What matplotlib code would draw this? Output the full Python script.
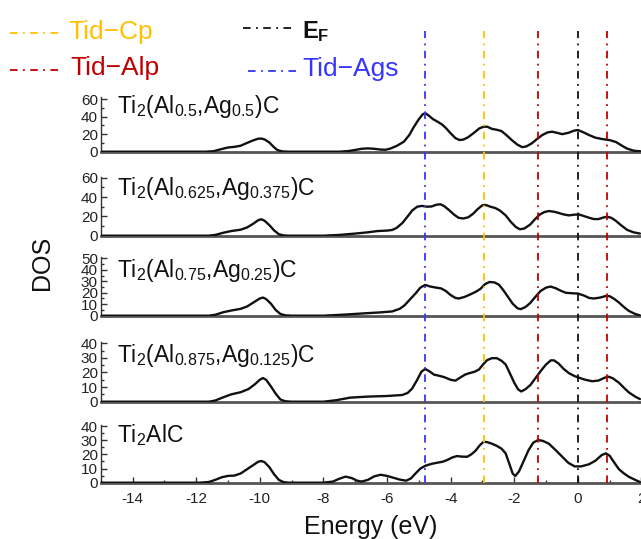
import matplotlib
matplotlib.use("Agg")
import matplotlib.pyplot as plt
from matplotlib.lines import Line2D
from matplotlib.ticker import MultipleLocator
from matplotlib.transforms import blended_transform_factory

plt.rcParams["font.family"] = ["Liberation Sans", "DejaVu Sans"]
plt.rcParams["mathtext.fontset"] = "custom"
plt.rcParams["mathtext.rm"] = "Liberation Sans"
plt.rcParams["mathtext.it"] = "Liberation Sans:italic"
plt.rcParams["mathtext.bf"] = "Liberation Sans:bold"
plt.rcParams["mathtext.sf"] = "Liberation Sans"
plt.rcParams["axes.unicode_minus"] = False

# ---------------- data ----------------
labels = [
    r"Ti$_2$(Al$_{0.5}$,Ag$_{0.5}$)C",
    r"Ti$_2$(Al$_{0.625}$,Ag$_{0.375}$)C",
    r"Ti$_2$(Al$_{0.75}$,Ag$_{0.25}$)C",
    r"Ti$_2$(Al$_{0.875}$,Ag$_{0.125}$)C",
    r"Ti$_2$AlC",
]

e_050 = [-15, -11.7, -11.45, -11.2, -11.0, -10.8, -10.6, -10.4, -10.2, -10.05, -9.95, -9.85,
         -9.7, -9.55, -9.45, -9.3, -9.1, -7.5, -7.2, -7.0, -6.8, -6.6, -6.4, -6.2, -6.05,
         -5.9, -5.7, -5.47, -5.3, -5.16, -5.0, -4.88, -4.8, -4.7, -4.55, -4.4, -4.27, -4.15,
         -4.0, -3.85, -3.72, -3.6, -3.45, -3.25, -3.1, -2.96, -2.85, -2.7, -2.55, -2.4,
         -2.25, -2.07, -1.9, -1.75, -1.62, -1.45, -1.3, -1.12, -0.95, -0.81, -0.65, -0.49,
         -0.3, -0.12, 0.0, 0.15, 0.35, 0.55, 0.75, 1.0, 1.2, 1.4, 1.55, 1.75, 2.0]
dos_050 = [0, 0, 0.6, 3, 4.8, 5.5, 6.8, 10, 13, 14.8, 15, 14,
           10.5, 5, 2, 0.4, 0, 0, 0.8, 2, 3.3, 3.8, 3.3, 2.4, 2.2,
           3.5, 6.5, 11.4, 19, 28, 37, 42.5, 44, 41.5, 37, 34, 31, 27,
           21, 15.5, 13.3, 13.8, 16.5, 22, 26.5, 28.5, 28.5, 26, 25, 23.5,
           19, 13, 8, 5.2, 6, 9.5, 14, 19, 22, 22.8, 21.5, 20,
           21.5, 24, 24.7, 22.5, 19, 16, 14.5, 13.2, 11, 6.5, 3.5, 1.2, 0.3]

e_0625 = [-15, -11.6, -11.4, -11.15, -10.9, -10.6, -10.4, -10.2, -10.05, -9.95, -9.85, -9.7,
          -9.55, -9.4, -9.25, -9.1, -8.0, -7.5, -7.0, -6.6, -6.3, -6.0, -5.84, -5.7, -5.52,
          -5.35, -5.21, -5.05, -4.9, -4.75, -4.6, -4.45, -4.32, -4.2, -4.05, -3.9, -3.75,
          -3.6, -3.45, -3.3, -3.15, -3.0, -2.9, -2.75, -2.59, -2.45, -2.27, -2.1, -1.95,
          -1.82, -1.68, -1.5, -1.35, -1.2, -1.05, -0.91, -0.75, -0.6, -0.45, -0.28, -0.1,
          0.05, 0.2, 0.35, 0.5, 0.65, 0.8, 0.92, 1.05, 1.19, 1.35, 1.55, 1.75, 1.95]
dos_0625 = [0, 0, 0.8, 3, 4.8, 6.2, 8.5, 12.5, 16, 17, 15.5, 11,
            5.5, 1.5, 0.3, 0, 0, 0.8, 2.2, 3.5, 4.8, 5.3, 5.9, 8, 13,
            20, 26, 30, 30.8, 30, 30.2, 32, 32.5, 30.5, 26.5, 22, 18.5,
            17.8, 19, 22.5, 27.5, 31.5, 31.8, 30, 28.5, 26, 21, 14, 9,
            6.6, 7.5, 11.5, 17, 21.8, 24.5, 25.5, 24.8, 23.5, 22, 21, 21.8,
            21.8, 20.2, 18.6, 17.2, 17.2, 18.8, 19.6, 18.5, 15.5, 11, 6, 3.5, 2.2]

e_075 = [-15, -11.6, -11.4, -11.15, -10.9, -10.6, -10.4, -10.2, -10.0, -9.9, -9.8, -9.65,
         -9.5, -9.35, -9.2, -9.0, -8.0, -7.3, -6.63, -6.26, -5.84, -5.6, -5.45, -5.3, -5.1,
         -4.95, -4.8, -4.65, -4.48, -4.3, -4.15, -4.0, -3.85, -3.74, -3.55, -3.37, -3.2,
         -3.06, -2.92, -2.78, -2.62, -2.48, -2.35, -2.2, -2.05, -1.9, -1.8, -1.65, -1.5,
         -1.35, -1.17, -1.0, -0.86, -0.7, -0.54, -0.38, -0.2, 0.0, 0.19, 0.35, 0.5, 0.7,
         0.88, 1.0, 1.15, 1.29, 1.45, 1.6, 1.8, 1.95]
dos_075 = [0, 0, 0.8, 3, 4.5, 6, 8, 11.5, 15, 15.8, 14.5, 10.5,
           5, 1.5, 0.3, 0, 0, 1, 2.2, 2.8, 3.7, 6, 9, 13.5, 19.5,
           24.5, 26.8, 25.5, 24.6, 23.8, 21.5, 18, 15.5, 15, 16.5, 18.7, 21,
           23.5, 27.5, 29.4, 29, 27, 22.5, 16.5, 10.5, 6.5, 5.7, 7.5, 11,
           16, 21.6, 24.5, 25.4, 24, 21.8, 20, 19.6, 19.3, 17.6, 15.5, 15, 15.8,
           17.2, 17, 14.5, 11.5, 7.5, 4.2, 1.5, 0.3]

e_0875 = [-15, -11.6, -11.4, -11.15, -10.9, -10.6, -10.35, -10.15, -10.0, -9.9, -9.8, -9.65,
          -9.5, -9.35, -9.2, -9.0, -8.0, -7.6, -7.15, -6.6, -6.0, -5.52, -5.35, -5.21, -5.05,
          -4.92, -4.8, -4.68, -4.52, -4.37, -4.2, -4.0, -3.85, -3.7, -3.55, -3.43, -3.25,
          -3.11, -2.98, -2.85, -2.7, -2.55, -2.4, -2.27, -2.15, -2.0, -1.88, -1.78, -1.65,
          -1.49, -1.32, -1.15, -1.0, -0.85, -0.75, -0.6, -0.45, -0.28, -0.1, 0.0, 0.2, 0.45,
          0.65, 0.85, 0.97, 1.1, 1.29, 1.45, 1.6, 1.8, 1.95]
dos_0875 = [0, 0, 0.8, 3, 5, 6.5, 8.7, 12, 15, 16.2, 15, 10.5,
            5.5, 1.5, 0.3, 0, 0, 1, 2.8, 3.5, 3.9, 4.6, 6, 9, 15,
            20.5, 22.4, 21, 18.5, 17.8, 16.8, 15, 14.4, 16.5, 18.5, 19.4, 20.5,
            22, 25.5, 28.5, 29.8, 29.8, 28, 25.5, 20, 13, 8.5, 7, 8.5,
            11.5, 16.5, 21.5, 25.5, 28.3, 28.3, 26, 22.5, 19.5, 17.5, 16.7, 15.2, 14,
            14.5, 16.5, 17.1, 16, 13, 9.5, 6.4, 3.5, 1.8]

e_ti2alc = [-15, -11.9, -11.6, -11.4, -11.2, -11.0, -10.8, -10.6, -10.4, -10.2, -10.05, -9.95,
            -9.85, -9.7, -9.55, -9.4, -9.25, -9.1, -8.0, -7.7, -7.5, -7.3, -7.1, -6.95, -6.8,
            -6.6, -6.4, -6.2, -6.0, -5.8, -5.6, -5.4, -5.25, -5.1, -4.95, -4.79, -4.6, -4.42,
            -4.25, -4.11, -3.95, -3.8, -3.65, -3.48, -3.35, -3.22, -3.08, -2.96, -2.85, -2.7,
            -2.55, -2.4, -2.27, -2.15, -2.05, -1.97, -1.85, -1.7, -1.55, -1.4, -1.25, -1.1,
            -0.91, -0.7, -0.49, -0.3, -0.1, 0.1, 0.35, 0.55, 0.75, 0.88, 1.0, 1.15, 1.29, 1.45,
            1.6, 1.8, 1.95]
dos_ti2alc = [0, 0, 0.5, 2, 3.8, 4.8, 5, 6.5, 9.5, 12.5, 14.8, 15.3,
              14.5, 11, 6, 2, 0.4, 0, 0, 0.8, 2.8, 4.3, 3.2, 1.5, 0.8,
              2, 4.5, 5.6, 4.8, 3.5, 2.2, 1.4, 3, 6.6, 10, 12, 13.3, 14.1,
              14.8, 16, 17.8, 18.8, 18.4, 18.3, 20, 22.5, 26.5, 28.9, 28.6, 27.5,
              26, 24, 20.7, 13, 6.5, 4.7, 8, 15.5, 23, 28.3, 30.1, 29.5,
              27.5, 23, 18.3, 14, 11.5, 11.5, 13, 15.5, 19.5, 20.7, 19, 14, 9.5, 6.5,
              4.2, 2, 0.5]

energies = [e_050, e_0625, e_075, e_0875, e_ti2alc]
dos_values = [dos_050, dos_0625, dos_075, dos_0875, dos_ti2alc]
y_tops = [62, 61, 51, 41, 41]
y_steps = [20, 20, 10, 10, 10]

# characteristic energies (eV) marked across all panels
line_energies = [-4.8, -2.95, -1.25, 0.0, 0.9]
line_colors = ["#3535FF", "#FFC000", "#C00000", "#111111", "#C00000"]

# ---------------- figure ----------------
W, H = 641, 539
fig = plt.figure(figsize=(W / 100, H / 100), dpi=100)


def fx(px):
    return px / W


def fy(py):
    return 1 - py / H


# pixel geometry of the stacked panels: (bottom, top)
panel_px = [(151.7, 97.3), (235.7, 176.7), (315.7, 257.2), (401.7, 341.8), (482.7, 424.6)]
label_baseline = [113.3, 195.0, 276.7, 362.3, 441.7]
x_left, x_right = 100.7, 641.5

axes = []
for i, (bot, top) in enumerate(panel_px):
    ax = fig.add_axes([fx(x_left), fy(bot), fx(x_right) - fx(x_left), (bot - top) / H])
    ax.plot(energies[i], dos_values[i], color="#111111", lw=1.7,
            solid_joinstyle="round", solid_capstyle="round", zorder=3)
    ax.set_xlim(-15, 2)
    ax.set_ylim(0, y_tops[i])
    ax.yaxis.set_major_locator(MultipleLocator(y_steps[i]))
    ax.yaxis.set_minor_locator(MultipleLocator(y_steps[i] / 2))
    for s in ("top", "right"):
        ax.spines[s].set_visible(False)
    ax.spines["bottom"].set_color("#555555")
    ax.spines["bottom"].set_linewidth(2.0)
    ax.spines["left"].set_color("#333333")
    ax.spines["left"].set_linewidth(1.0)
    ax.tick_params(axis="y", which="major", direction="in", length=4, width=1,
                   labelsize=11, pad=2, colors="#333333", labelcolor="#222222")
    ax.tick_params(axis="y", which="minor", direction="in", length=2.5, width=1,
                   colors="#333333")
    ax.patch.set_alpha(0)
    fig.text(fx(117), fy(label_baseline[i]), labels[i], fontsize=16.5,
             va="baseline", ha="left", color="#111111")
    axes.append(ax)

for ax in axes[:-1]:
    ax.tick_params(axis="x", which="both", bottom=False, labelbottom=False)

axb = axes[-1]
axb.xaxis.set_major_locator(MultipleLocator(2))
axb.xaxis.set_minor_locator(MultipleLocator(1))
axb.set_xticks(range(-14, 3, 2))
axb.tick_params(axis="x", which="major", direction="in", length=4.5, width=1,
                labelsize=11, pad=7, colors="#333333", labelcolor="#222222")
axb.tick_params(axis="x", which="minor", direction="in", length=2.5, width=1,
                colors="#333333")

fig.text(fx(371), fy(534), "Energy (eV)", fontsize=18, ha="center", va="baseline",
         color="#111111")
fig.text(fx(42), fy(263), "DOS", fontsize=18, rotation=90, ha="center", va="center",
         color="#111111")

# dash-dot markers spanning the whole stack
dash = (0, (4.2, 3, 1, 3))
trans = blended_transform_factory(axb.transData, fig.transFigure)
for e, c in zip(line_energies, line_colors):
    fig.add_artist(Line2D([e, e], [fy(483), fy(31)], transform=trans, color=c,
                          lw=1.3, linestyle=dash, zorder=5))

# legend entries
legend_items = [
    ((10, 58), 32.7, "#FFC000", "Tid\u2212Cp", 68, 39.5, 19, "normal"),
    ((10, 58), 70.0, "#C00000", "Tid\u2212Alp", 70, 75.5, 19, "normal"),
    ((243, 292), 28.0, "#111111", r"$\mathbf{E}_{\mathbf{F}}$", 302, 38.5, 17, "bold"),
    ((248, 297), 71.0, "#3535FF", "Tid\u2212Ags", 302, 76.0, 19, "normal"),
]
for (x0, x1), ly, col, txt, tx, tb, fs, fw in legend_items:
    fig.add_artist(Line2D([fx(x0), fx(x1)], [fy(ly), fy(ly)], transform=fig.transFigure,
                          color=col, lw=1.3, linestyle=dash))
    fig.text(fx(tx), fy(tb), txt, color=col, fontsize=fs, fontweight=fw,
             ha="left", va="baseline")

fig.savefig("out.png", dpi=100)
